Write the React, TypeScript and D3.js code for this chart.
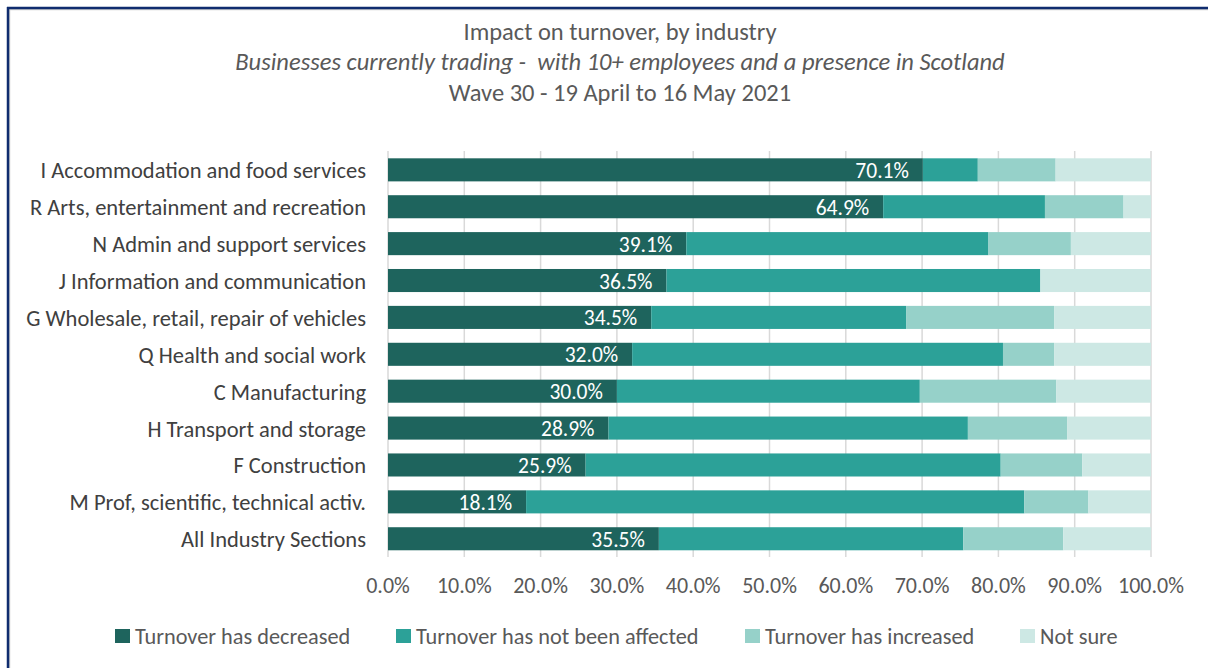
import React, { useEffect, useRef } from "react";
import * as d3 from "d3";

const categories = [
  "I Accommodation and food services",
  "R Arts, entertainment and recreation",
  "N Admin and support services",
  "J Information and communication",
  "G Wholesale, retail, repair of vehicles",
  "Q Health and social work",
  "C Manufacturing",
  "H Transport and storage",
  "F Construction",
  "M Prof, scientific, technical activ.",
  "All Industry Sections",
];

const decreased = [70.1, 64.9, 39.1, 36.5, 34.5, 32.0, 30.0, 28.9, 25.9, 18.1, 35.5];
const notAffected = [7.2, 21.2, 39.6, 49.0, 33.4, 48.6, 39.7, 47.1, 54.4, 65.3, 39.9];
const increased = [10.2, 10.3, 10.8, 0.0, 19.4, 6.7, 17.9, 13.0, 10.7, 8.4, 13.1];
const notSure = [12.5, 3.6, 10.5, 14.5, 12.7, 12.7, 12.4, 11.0, 9.0, 8.2, 11.5];

const seriesNames = [
  "Turnover has decreased",
  "Turnover has not been affected",
  "Turnover has increased",
  "Not sure",
];
const seriesColors = ["#1E645D", "#2CA198", "#96D1C9", "#CDE8E4"];

const xTicks = [0, 10, 20, 30, 40, 50, 60, 70, 80, 90, 100];

const titleLines = [
  "Impact on turnover, by industry",
  "Businesses currently trading -  with 10+ employees and a presence in Scotland",
  "Wave 30 - 19 April to 16 May 2021",
];

const FONT = "Carlito, Calibri, Lato, 'Open Sans', sans-serif";

export default function App() {
  const ref = useRef<SVGSVGElement | null>(null);

  useEffect(() => {
    const svg = d3.select(ref.current);
    svg.selectAll("*").remove();
    const W = 1208;
    const H = 668;

    svg.append("rect").attr("x", 0).attr("y", 0).attr("width", W).attr("height", H).attr("fill", "#fff");

    // border
    svg.append("line").attr("x1", 9.5).attr("x2", 9.5).attr("y1", 9).attr("y2", H).attr("stroke", "#D0D0D0").attr("stroke-width", 1.5);
    svg.append("line").attr("x1", 9).attr("x2", W).attr("y1", 9.5).attr("y2", 9.5).attr("stroke", "#D0D0D0").attr("stroke-width", 1.5);
    svg.append("line").attr("x1", 8).attr("x2", 8).attr("y1", 7).attr("y2", H).attr("stroke", "#0F2C6E").attr("stroke-width", 2.5);
    svg.append("line").attr("x1", 7).attr("x2", W).attr("y1", 8).attr("y2", 8).attr("stroke", "#0F2C6E").attr("stroke-width", 2.5);

    // title
    const titleY = [32, 62, 93];
    titleLines.forEach((t, i) => {
      svg
        .append("text")
        .attr("x", 620)
        .attr("y", titleY[i])
        .attr("text-anchor", "middle")
        .attr("dominant-baseline", "central")
        .attr("font-family", FONT)
        .attr("font-size", 24.5)
        .attr("font-style", i === 1 ? "italic" : "normal")
        .attr("fill", "#595959")
        .style("white-space", "pre")
        .text(t);
    });

    const x = d3.scaleLinear().domain([0, 100]).range([388, 1151]);
    const y = d3
      .scaleBand<string>()
      .domain(categories)
      .range([151.4, 557.2])
      .paddingInner(0.375)
      .paddingOuter(0.1875);

    // gridlines
    svg
      .append("g")
      .selectAll("line")
      .data(xTicks)
      .join("line")
      .attr("x1", (d) => x(d))
      .attr("x2", (d) => x(d))
      .attr("y1", 151)
      .attr("y2", 557)
      .attr("stroke", "#D9D9D9")
      .attr("stroke-width", 1.5);

    const rows = categories.map((c, i) => ({
      cat: c,
      vals: [decreased[i], notAffected[i], increased[i], notSure[i]],
    }));
    const stacked = d3
      .stack<any, number>()
      .keys([0, 1, 2, 3])
      .value((d: any, k: number) => d.vals[k])(rows as any);

    stacked.forEach((layer, si) => {
      svg
        .append("g")
        .selectAll("rect")
        .data(layer)
        .join("rect")
        .attr("x", (d) => x(d[0]))
        .attr("y", (d: any) => y(d.data.cat)!)
        .attr("width", (d) => Math.max(0, x(d[1]) - x(d[0])))
        .attr("height", y.bandwidth())
        .attr("fill", seriesColors[si]);
    });

    // data labels
    svg
      .append("g")
      .selectAll("text")
      .data(rows)
      .join("text")
      .attr("x", (d) => x(d.vals[0]) - 14)
      .attr("y", (d) => y(d.cat)! + y.bandwidth() / 2 + 1)
      .attr("text-anchor", "end")
      .attr("dominant-baseline", "central")
      .attr("font-family", FONT)
      .attr("font-size", 21.5)
      .attr("fill", "#FFFFFF")
      .text((d) => d.vals[0].toFixed(1) + "%");

    // category labels
    svg
      .append("g")
      .selectAll("text")
      .data(categories)
      .join("text")
      .attr("x", 366)
      .attr("y", (d) => y(d)! + y.bandwidth() / 2 + 1)
      .attr("text-anchor", "end")
      .attr("dominant-baseline", "central")
      .attr("font-family", FONT)
      .attr("font-size", 22.5)
      .attr("fill", "#404040")
      .text((d) => d);

    // x tick labels
    svg
      .append("g")
      .selectAll("text")
      .data(xTicks)
      .join("text")
      .attr("x", (d) => x(d))
      .attr("y", 585)
      .attr("text-anchor", "middle")
      .attr("dominant-baseline", "central")
      .attr("font-family", FONT)
      .attr("font-size", 22)
      .attr("fill", "#595959")
      .text((d) => d.toFixed(1) + "%");

    // legend
    const legendX = [115, 396, 745, 1020];
    seriesNames.forEach((n, i) => {
      svg
        .append("rect")
        .attr("x", legendX[i])
        .attr("y", 629)
        .attr("width", 15)
        .attr("height", 14)
        .attr("fill", seriesColors[i]);
      svg
        .append("text")
        .attr("x", legendX[i] + 20)
        .attr("y", 636)
        .attr("dominant-baseline", "central")
        .attr("font-family", FONT)
        .attr("font-size", 22.3)
        .attr("fill", "#595959")
        .text(n);
    });
  }, []);

  return (
    <svg
      ref={ref}
      width={1208}
      height={668}
      style={{ position: "absolute", left: 0, top: 0, display: "block" }}
    />
  );
}
